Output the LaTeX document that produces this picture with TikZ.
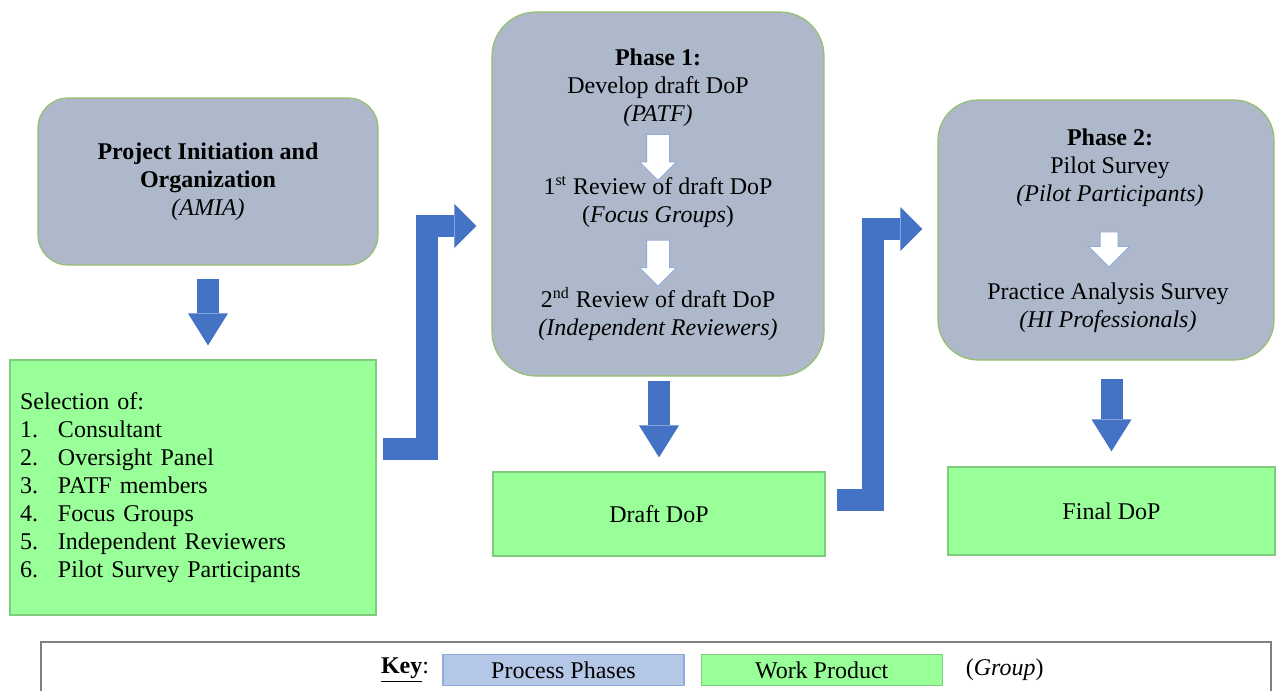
\documentclass[tikz,border=0pt]{standalone}
\usepackage{fontspec}
\setmainfont{Liberation Serif}
\usetikzlibrary{arrows.meta, shapes.arrows, positioning, calc}

\definecolor{phasefill}{HTML}{ADB9CA}
\definecolor{phaseline}{HTML}{96BF6E}
\definecolor{prodfill}{HTML}{99FF99}
\definecolor{prodline}{HTML}{7FCC7F}
\definecolor{flowblue}{HTML}{4472C4}
\definecolor{keyblue}{HTML}{B4C7E7}
\definecolor{keyline}{HTML}{8FAADC}
\definecolor{keygray}{HTML}{7F7F7F}

\tikzset{
	x=0.5pt, y=-0.5pt, % layout units, y running downwards
	every node/.style={font=\fontsize{12}{14}\selectfont}, % serif text everywhere
	phase/.style={draw=phaseline, fill=phasefill, line width=0.6pt}, % process phases
	product/.style={draw=prodline, fill=prodfill, line width=0.6pt}, % work products
	flow/.style={draw=flowblue, line width=11pt, line join=miter,
		-{Triangle[length=16pt, width=20pt, line width=0pt]}}, % big blue arrows
	elbow/.style={flow, -{Triangle[length=11pt, width=22pt, line width=0pt]}},
	hollow/.style={single arrow, draw=keyline, fill=white, line width=0.4pt,
		rotate=-90, inner xsep=0pt, inner ysep=5.5pt,
		single arrow head extend=3.5pt, minimum height=23pt}, % white arrows inside a phase
}

\begin{document}
\begin{tikzpicture}
	\useasboundingbox (0,0) rectangle (1276,691);
	\clip (0,0) rectangle (1276,691);

	% project start and selections
	\node[phase, rounded corners=15pt, minimum width=170pt, minimum height=83.5pt, align=center] (init) at (208,181.5)
		{\textbf{Project Initiation and}\\\textbf{Organization}\\\textit{(AMIA)}};
	\node[product, text width=173pt, inner xsep=5pt, minimum height=127.5pt, align=left] (select) at (193,487.5)
		{Selection of:\\
		\makebox[19pt][l]{1.}Consultant\\
		\makebox[19pt][l]{2.}Oversight Panel\\
		\makebox[19pt][l]{3.}PATF members\\
		\makebox[19pt][l]{4.}Focus Groups\\
		\makebox[19pt][l]{5.}Independent Reviewers\\
		\makebox[19pt][l]{6.}Pilot Survey Participants};

	% phase 1
	\node[phase, rounded corners=22pt, minimum width=166pt, minimum height=182pt] (ph1) at (658,194) {};
	\node[align=center] (p1a) at (658,88) {\textbf{Phase 1:}\\Develop draft DoP\\\textit{(PATF)}};
	\node[align=center] (p1b) at (658,202) {1\textsuperscript{st} Review of draft DoP\\(\textit{Focus Groups})};
	\node[align=center] (p1c) at (658,314) {2\textsuperscript{nd} Review of draft DoP\\\textit{(Independent Reviewers)}};
	\node[product, minimum width=166pt, minimum height=42pt] (draft) at (659,514) {Draft DoP};

	% phase 2
	\node[phase, rounded corners=20pt, minimum width=168pt, minimum height=130pt] (ph2) at (1106,230) {};
	\node[align=center] (p2a) at (1110,168) {\textbf{Phase 2:}\\Pilot Survey\\\textit{(Pilot Participants)}};
	\node[align=center] (p2b) at (1108,308) {Practice Analysis Survey\\\textit{(HI Professionals)}};
	\node[product, minimum width=163.5pt, minimum height=44pt] (final) at (1111.5,511) {Final DoP};

	% steps inside the phases
	\path (p1a.south) -- node[hollow] {} (p1b.north);
	\path (p1b.south) -- node[hollow] {} (p1c.north);
	\path (p2a.south) -- node[hollow, inner ysep=4.25pt, single arrow head extend=5.75pt, minimum height=17.5pt] {} (p2b.north);

	% flow between the blocks
	\draw[flow, shorten <=6.5pt, shorten >=7pt] (init.south) -- (init.south |- select.north);
	\draw[flow, shorten <=2pt, shorten >=7pt] (ph1.south -| draft.north) -- (draft.north);
	\draw[flow, shorten <=9pt, shorten >=7.5pt] (final.north |- ph2.south) -- (final.north);

	\coordinate (b1) at ($(select.east)+(6,-39)$);
	\coordinate (t1) at (427,226);
	\draw[elbow, shorten >=7.5pt] (b1) -| (t1) -- (t1 -| ph1.west);
	\coordinate (b2) at ($(draft.east)+(11,-14)$);
	\coordinate (t2) at (872.5,229);
	\draw[elbow, shorten >=7.5pt] (b2) -| (t2) -- (t2 -| ph2.west);

	% key
	\node[draw=keygray, line width=0.8pt, minimum width=615pt, minimum height=30pt, anchor=north west] (key) at (40,641) {};
	\node (keylbl) at (405,670) {\textbf{\underline{Key}}:};
	\node[draw=keyline, fill=keyblue, line width=0.6pt, minimum width=120.5pt, minimum height=14pt] (kph) at (563.5,670) {Process Phases};
	\node[product, minimum width=120.5pt, minimum height=14pt, right=8pt of kph] (kwp) {Work Product};
	\node[right=8pt of kwp] (kgr) {(\textit{Group})};
\end{tikzpicture}
\end{document}
